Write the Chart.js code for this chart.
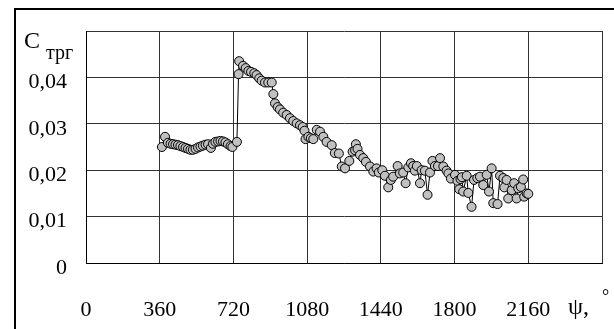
<!DOCTYPE html>
<html lang="ru">
<head>
<meta charset="UTF-8">
<title>C трг</title>
<script src="https://cdn.jsdelivr.net/npm/chart.js"></script>
<style>
  html, body { margin: 0; padding: 0; background: #fff; }
  #wrap { width: 614px; height: 329px; }
</style>
</head>
<body>
<div id="wrap"><canvas id="chart" width="614" height="329"></canvas></div>
<script>
// angle psi, degrees
const psi = [371,386,400,413,425,437,449,461,474,486,498,510,522,535,547,559,571,584,596,610,
  620,632,645,657,669,681,693,706,715,737,745,748,767,780,793,806,822,833,846,858,
  874,890,907,915,923,936,947,963,980,996,1012,1029,1045,1058,1067,1072,1086,1098,1110,1127,
  1143,1159,1175,1200,1215,1235,1249,1265,1286,1302,1314,1318,1326,1338,1354,1367,1387,1403,1419,1430,
  1447,1460,1476,1489,1500,1522,1533,1549,1561,1574,1587,1598,1606,1616,1631,1639,1655,1668,1680,1692,
  1704,1719,1729,1745,1761,1770,1782,1802,1814,1823,1829,1836,1842,1859,1867,1883,1895,1911,1924,1940,
  1957,1968,1981,1989,2010,2022,2038,2043,2054,2062,2079,2091,2103,2111,2124,2135,2140,2152,2160];

// coefficient C_трг
const ctrg = [0.0250,0.0272,0.0259,0.0257,0.0256,0.0255,0.0254,0.0252,0.0250,0.0248,0.0246,0.0244,0.0244,0.0246,0.0249,0.0251,0.0253,0.0255,0.0256,0.0248,
  0.0257,0.0261,0.0262,0.0263,0.0262,0.0260,0.0256,0.0252,0.0250,0.0261,0.0407,0.0435,0.0425,0.0420,0.0414,0.0412,0.0409,0.0405,0.0398,0.0393,
  0.0389,0.0389,0.0389,0.0364,0.0344,0.0336,0.0331,0.0324,0.0319,0.0312,0.0306,0.0301,0.0297,0.0293,0.0285,0.0267,0.0272,0.0269,0.0267,0.0287,
  0.0283,0.0272,0.0261,0.0254,0.0237,0.0236,0.0208,0.0204,0.0220,0.0240,0.0243,0.0256,0.0246,0.0233,0.0226,0.0218,0.0208,0.0197,0.0204,0.0195,
  0.0200,0.0188,0.0163,0.0179,0.0186,0.0209,0.0193,0.0195,0.0172,0.0206,0.0215,0.0209,0.0199,0.0209,0.0172,0.0200,0.0199,0.0147,0.0195,0.0220,
  0.0209,0.0209,0.0226,0.0208,0.0199,0.0193,0.0182,0.0190,0.0177,0.0159,0.0181,0.0185,0.0154,0.0188,0.0151,0.0121,0.0179,0.0183,0.0186,0.0168,
  0.0190,0.0154,0.0204,0.0129,0.0127,0.0188,0.0183,0.0163,0.0179,0.0139,0.0157,0.0172,0.0139,0.0161,0.0164,0.0180,0.0143,0.0150,0.0149];

const xMax = 2520, xStep = 360;
const yMax = 0.05, yStep = 0.01;
const yTitle = 'C', ySub = 'трг';
const xTitle = 'ψ,', xDeg = '°';

const FONT = 'Liberation Serif, Times New Roman, serif';

// outer frame + axis names that sit in place of the last tick labels
const extras = {
  id: 'extras',
  beforeDraw(chart) {
    const c = chart.ctx;
    c.save();
    c.fillStyle = '#fff';
    c.fillRect(0, 0, chart.width, chart.height);
    c.strokeStyle = '#000';
    c.lineWidth = 2;
    c.strokeRect(15, 9, chart.width + 10, chart.height + 10);
    c.restore();
  },
  afterDraw(chart) {
    const c = chart.ctx;
    const xs = chart.scales.x, ys = chart.scales.y;
    const top = ys.getPixelForValue(yMax);
    const left = chart.chartArea.left;
    c.save();
    c.fillStyle = '#000';
    c.textBaseline = 'alphabetic';
    c.textAlign = 'left';
    c.font = '24px ' + FONT;
    c.fillText(yTitle, left - 62, top + 17);
    c.font = '20px ' + FONT;
    c.fillText(ySub, left - 40, top + 28);
    const xr = xs.getPixelForValue(xMax);
    const base = chart.chartArea.bottom + 51;
    c.font = '24px ' + FONT;
    c.fillText(xTitle, xr - 34, base);
    c.font = '18px ' + FONT;
    c.fillText(xDeg, xr, base - 12);
    c.restore();
  }
};

new Chart(document.getElementById('chart'), {
  type: 'line',
  data: {
    datasets: [{
      data: psi.map((p, i) => ({ x: p, y: ctrg[i] })),
      borderColor: '#000',
      borderWidth: 1,
      backgroundColor: '#c0c0c0',
      pointBackgroundColor: '#c0c0c0',
      pointBorderColor: '#000',
      pointBorderWidth: 1,
      pointRadius: 4.5,
      tension: 0,
      fill: false
    }]
  },
  options: {
    responsive: false,
    animation: false,
    devicePixelRatio: 1,
    layout: { autoPadding: false, padding: { left: 0, top: 31, right: 12, bottom: 0 } },
    plugins: { legend: { display: false }, tooltip: { enabled: false } },
    scales: {
      x: {
        type: 'linear',
        min: 0, max: xMax,
        grid: { color: '#333', lineWidth: 1, drawTicks: false },
        border: { color: '#000', width: 1 },
        ticks: {
          stepSize: xStep,
          padding: 34,
          color: '#000',
          font: { family: FONT, size: 22 },
          maxRotation: 0,
          callback: (v) => (v >= xMax ? '' : String(v))
        },
        afterFit: (s) => { s.height = 66; s.paddingLeft = 0; s.paddingRight = 0; }
      },
      y: {
        min: 0, max: yMax,
        grid: { color: '#333', lineWidth: 1, drawTicks: false },
        border: { color: '#000', width: 1 },
        ticks: {
          stepSize: yStep,
          padding: 19,
          labelOffset: 5,
          color: '#000',
          font: { family: FONT, size: 22 },
          callback: (v) => {
            if (Math.abs(v - yMax) < 1e-9) return '';
            if (Math.abs(v) < 1e-9) return '0';
            return v.toFixed(2).replace('.', ',');
          }
        },
        afterFit: (s) => { s.width = 86; s.paddingTop = 0; s.paddingBottom = 0; }
      }
    }
  },
  plugins: [extras]
});
</script>
</body>
</html>
